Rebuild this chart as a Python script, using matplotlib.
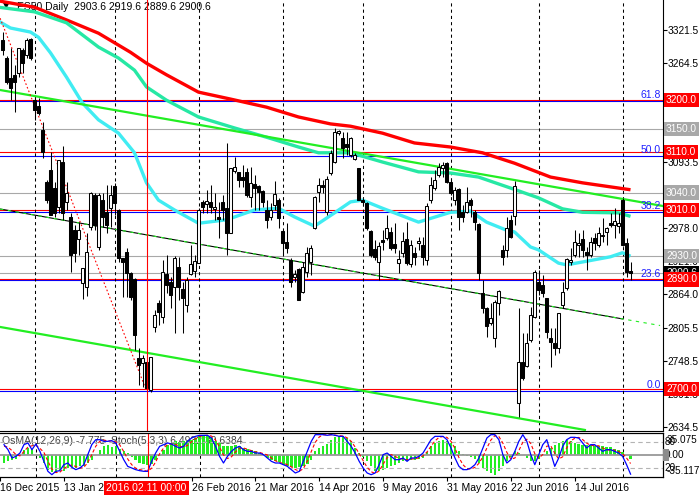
import matplotlib
matplotlib.use("Agg")
import matplotlib.pyplot as plt
from matplotlib.transforms import blended_transform_factory
import numpy as np

plt.rcParams['font.family'] = ['Liberation Sans', 'DejaVu Sans']
plt.rcParams['font.size'] = 7.5

# daily bars, index 0 = 17 Dec 2015, last = 3 Aug 2016
opens = [3304, 3273, 3238, 3244, 3247, 3287, 3278, 3306, 3200, 3190,
         3148, 3058, 3079, 3048, 3015, 3093, 3024, 2998, 2975, 2960,
         2884, 2877, 2980, 3036, 2946, 3027, 3006, 3013, 3051, 3010,
         2927, 2937, 2901, 2891, 2754, 2745, 2747, 2698, 2808, 2849,
         2825, 2899, 2885, 2877, 2911, 2873, 2845, 2899, 2905, 2918,
         3024, 3020, 3024, 3012, 2998, 3024, 3013, 2970, 3077, 3076,
         3067, 3076, 3032, 3055, 3051, 3043, 3010, 2998, 3019, 3027,
         2974, 2955, 2923, 2894, 2908, 2868, 2903, 2920, 2979, 3041,
         3053, 3006, 3074, 3093, 3143, 3135, 3124, 3105, 3098, 3083,
         3027, 3022, 2974, 2942, 2920, 2958, 2961, 2972, 2951, 2918,
         2936, 2960, 2916, 2936, 2953, 2949, 2923, 3027, 3048, 3071,
         3083, 3091, 3058, 3027, 3046, 3006, 3006, 3027, 3006, 2986,
         2866, 2840, 2814, 2788, 2849, 2941, 2941, 2993, 3000, 2676,
         2747, 2740, 2785, 2825, 2885, 2880, 2858, 2788, 2780, 2771,
         2845, 2875, 2920, 2932, 2949, 2960, 2937, 2932, 2961, 2949,
         2965, 2972, 2987, 2984, 2982, 3027, 2953, 2903.6]
highs = [3318, 3277, 3290, 3261, 3290, 3290, 3308, 3308, 3206, 3204,
         3162, 3062, 3110, 3058, 3097, 3121, 3058, 3005, 2984, 2989,
         2910, 2970, 3041, 3039, 3039, 3039, 3053, 3053, 3057, 3012,
         2927, 2944, 2903, 2892, 2771, 2759, 2747, 2756, 2837, 2854,
         2923, 2932, 2894, 2930, 2929, 2885, 2894, 2949, 2932, 3013,
         3027, 3045, 3053, 3039, 3024, 3036, 3126, 3083, 3102, 3076,
         3088, 3083, 3084, 3071, 3053, 3045, 3027, 3022, 3060, 3031,
         2975, 2987, 2927, 2906, 2910, 2920, 2946, 2949, 3034, 3065,
         3062, 3069, 3114, 3152, 3148, 3145, 3145, 3136, 3109, 3083,
         3031, 3024, 2975, 2958, 2955, 2975, 3001, 2981, 2987, 2941,
         2972, 2989, 2958, 2946, 2963, 2963, 3022, 3067, 3079, 3091,
         3093, 3093, 3065, 3050, 3048, 3019, 3050, 3031, 3010, 2987,
         2889, 2842, 2849, 2854, 2872, 2949, 2998, 3001, 3060, 2840,
         2797, 2797, 2842, 2906, 2906, 2897, 2858, 2806, 2806, 2832,
         2885, 2927, 2944, 2975, 2970, 2975, 2946, 2963, 2970, 2981,
         2996, 2981, 3005, 3013, 3005, 3031, 2961, 2919.6]
lows = [3278, 3228, 3200, 3180, 3240, 3247, 3273, 3270, 3166, 3174,
        3100, 3022, 3001, 2998, 3005, 2993, 3010, 2903, 2920, 2932,
        2856, 2861, 2975, 2975, 2941, 2981, 2970, 2981, 3001, 2920,
        2859, 2859, 2854, 2768, 2707, 2704, 2697, 2695, 2799, 2811,
        2814, 2866, 2840, 2797, 2854, 2797, 2833, 2897, 2894, 2918,
        3005, 3005, 3005, 2993, 2961, 2993, 2932, 2970, 3074, 3050,
        3050, 3032, 3015, 3010, 3010, 3015, 2979, 2993, 3010, 2979,
        2932, 2936, 2877, 2885, 2854, 2866, 2894, 2897, 2977, 3024,
        3039, 3001, 3071, 3091, 3140, 3100, 3105, 3102, 3097, 3027,
        3017, 2975, 2929, 2923, 2889, 2941, 2958, 2941, 2936, 2901,
        2929, 2915, 2911, 2915, 2941, 2915, 2915, 3022, 3045, 3067,
        3067, 3057, 3036, 3019, 2975, 2989, 3005, 2998, 2975, 2889,
        2832, 2790, 2811, 2773, 2828, 2915, 2929, 2961, 2984, 2652,
        2716, 2738, 2781, 2823, 2863, 2859, 2788, 2738, 2759, 2762,
        2840, 2871, 2915, 2929, 2929, 2929, 2906, 2929, 2941, 2946,
        2955, 2949, 2981, 2961, 2970, 2948, 2894, 2889.6]
closes = [3287, 3232, 3221, 3232, 3290, 3264, 3304, 3273, 3183, 3178,
          3110, 3027, 3001, 3005, 3097, 3005, 3039, 2932, 2936, 2975,
          2910, 2937, 3039, 2984, 3036, 2998, 2984, 3036, 3022, 2927,
          2920, 2901, 2859, 2794, 2742, 2754, 2702, 2756, 2828, 2833,
          2903, 2880, 2863, 2927, 2877, 2858, 2889, 2916, 2922, 3010,
          3015, 3025, 3015, 3015, 2994, 3010, 2970, 3083, 3084, 3062,
          3062, 3036, 3057, 3048, 3041, 3024, 2993, 3010, 3038, 2996,
          2953, 2944, 2885, 2899, 2854, 2911, 2936, 2944, 3032, 3053,
          3050, 3064, 3109, 3145, 3147, 3117, 3119, 3135, 3105, 3027,
          3024, 2979, 2932, 2929, 2948, 2955, 2979, 2944, 2944, 2925,
          2956, 2918, 2949, 2929, 2956, 2929, 3017, 3053, 3062, 3084,
          3088, 3058, 3039, 3045, 2998, 2998, 3024, 3019, 2989, 2901,
          2840, 2809, 2823, 2851, 2870, 2929, 2979, 2963, 3052, 2747,
          2719, 2780, 2828, 2903, 2871, 2866, 2799, 2781, 2771, 2832,
          2868, 2925, 2923, 2955, 2953, 2941, 2932, 2955, 2953, 2970,
          2967, 2979, 2984, 2991, 2987, 2949, 2903, 2900.6]

# moving averages (bar index, price)
red_ma_idx = [-1, 8, 16, 24, 32, 36, 41, 49, 57, 66, 74, 82, 87, 95, 103, 112, 120, 128, 137, 145, 157]
red_ma = [3372, 3361, 3339, 3316, 3283, 3264, 3244, 3214, 3202, 3188, 3171, 3159, 3155, 3143, 3126, 3119, 3109, 3091, 3067, 3057, 3045]
teal_ma_idx = [-1, 8, 16, 24, 29, 33, 36, 41, 49, 58, 66, 74, 79, 87, 95, 104, 112, 119, 127, 134, 140, 145, 154, 157]
teal_ma = [3361, 3353, 3334, 3292, 3273, 3252, 3223, 3200, 3171, 3152, 3136, 3119, 3109, 3109, 3093, 3076, 3074, 3067, 3048, 3031, 3012, 3006, 3005, 2999]
cyan_ma_idx = [-1, 2, 7, 9, 12, 16, 20, 24, 29, 33, 36, 39, 43, 49, 56, 63, 69, 73, 78, 83, 87, 90, 95, 104,
               112, 117, 121, 126, 128, 132, 134, 139, 141, 145, 152, 155, 157]
cyan_ma = [3337, 3325, 3318, 3309, 3282, 3240, 3195, 3166, 3143, 3109, 3057, 3027, 3010, 2987, 2993, 3010, 3013, 2998, 2982, 3005, 3024, 3027, 3013, 2989,
           3006, 3008, 2989, 2975, 2972, 2946, 2941, 2918, 2915, 2920, 2929, 2936, 2930]

# trend lines (bar index, price)
upper_line_idx = [-0.6, 165.1]
upper_line = [3217.7, 3016.9]
mid_line_idx = [-0.6, 155.1]
mid_line = [3011.7, 2821.3]
mid_ray_idx = [-0.6, 164.4]
mid_ray = [3011.7, 2810.0]
lower_line_idx = [-0.6, 145.6]
lower_line = [2807.5, 2629.2]
zigzag_idx = [-0.6, 36]
zigzag = [3342, 2697]

# horizontal levels
red_levels = [3200.0, 3110.0, 3010.0, 2890.0, 2700.0]
gray_levels = [3150.0, 3040.0, 2930.0, 2900.6]
fib_prices = [2697, 2888.5, 3007, 3103, 3199]
fib_names = ["0.0", "23.6", "38.2", "50.0", "61.8"]
price_ticks = [3321.5, 3264.5, 3093.5, 3036.0, 2978.0, 2921.0, 2864.0, 2805.5, 2748.5, 2691.5, 2634.5]

# month separators and date labels
separators = [8, 28, 49, 70, 90, 112, 134, 155]
date_idx = [-1, 15, 47, 63, 79, 95, 111, 127, 143]
date_labels = ["16 Dec 2015", "13 Jan 2016", "26 Feb 2016", "21 Mar 2016",
               "14 Apr 2016", "9 May 2016", "31 May 2016", "22 Jun 2016", "14 Jul 2016"]
cursor_idx = 36

# indicator window
osma = [-14.3, -11.3, -8.3, -6.5, 1.8, 9.5, 12.5, 11.3, 0.6, -5.3,
        -14.3, -26.1, -30.9, -32.1, -26.1, -27.9, -23.2, -22.0, -23.2, -20.2,
        -20.2, -14.3, -8.3, -0.6, 9.5, 15.4, 17.2, 13.7, 15.4, 11.3,
        6.5, 3.6, -4.2, -8.3, -14.3, -16.0, -17.2, -16.0, -8.3, -2.4,
        9.5, 18.4, 21.4, 24.4, 23.2, 24.4, 25.5, 27.3, 30.3, 33.3,
        35.0, 34.5, 30.3, 25.5, 21.4, 15.4, 15.4, 15.4, 17.2, 15.4,
        12.5, 11.3, 9.5, 6.5, 3.6, 0.6, -5.3, -8.3, -11.3, -13.1,
        -17.2, -20.2, -22.0, -23.2, -22.0, -20.2, -16.0, -8.3, 6.5, 12.5,
        15.4, 19.6, 27.3, 31.5, 33.3, 33.3, 30.3, 24.4, 12.5, 3.6,
        -4.2, -11.3, -20.2, -27.9, -29.1, -26.1, -23.2, -20.2, -17.2, -14.3,
        -11.3, -10.1, -8.3, -8.3, -6.5, -5.3, 5.3, 15.4, 21.4, 24.4,
        27.3, 25.5, 21.4, 15.4, 7.7, 1.8, -2.4, -4.2, -6.5, -14.3,
        -23.2, -29.1, -32.1, -35.0, -29.1, -20.2, -11.3, -4.2, 6.5, 3.6,
        -0.6, -5.3, -11.3, -11.3, -6.5, 0.6, 7.7, 12.5, 18.4, 21.4,
        24.4, 27.3, 24.4, 21.4, 19.6, 18.4, 18.4, 17.2, 15.4, 15.4,
        15.4, 14.3, 13.7, 11.3, 9.5, 5.3, -0.6, -7.775]
stoch_main = [73.5, 62.1, 43.2, 47.0, 54.5, 73.5, 77.3, 62.1, 75.0, 58.3,
              35.6, 12.9, 5.3, 12.9, 14.4, 28.0, 31.8, 22.0, 16.7, 20.5,
              28.0, 50.8, 73.5, 84.8, 84.8, 81.1, 81.1, 82.6, 77.3, 58.3,
              39.4, 24.2, 20.5, 16.7, 14.4, 12.9, 12.9, 35.6, 54.5, 69.7,
              73.5, 77.3, 75.0, 69.7, 65.9, 69.7, 81.1, 88.6, 92.4, 94.7,
              94.7, 94.7, 88.6, 69.7, 47.0, 31.8, 47.0, 58.3, 65.9, 69.7,
              62.1, 58.3, 58.3, 54.5, 54.5, 50.8, 43.2, 35.6, 31.8, 31.8,
              28.0, 24.2, 16.7, 9.1, 12.9, 35.6, 58.3, 81.1, 96.2, 96.2,
              96.2, 94.7, 96.2, 94.7, 92.4, 92.4, 81.1, 69.7, 54.5, 35.6,
              20.5, 9.1, 5.3, 9.1, 28.0, 50.8, 54.5, 47.0, 39.4, 39.4,
              43.2, 35.6, 43.2, 43.2, 47.0, 54.5, 69.7, 84.8, 92.4, 92.4,
              92.4, 84.8, 65.9, 43.2, 24.2, 16.7, 16.7, 20.5, 28.0, 43.2,
              65.9, 88.6, 96.2, 96.2, 84.8, 50.8, 31.8, 39.4, 58.3, 81.1,
              96.2, 81.1, 50.8, 28.0, 50.8, 73.5, 84.8, 54.5, 24.2, 43.2,
              69.7, 84.8, 90.2, 90.2, 88.6, 77.3, 65.9, 73.5, 73.5, 65.9,
              58.3, 62.1, 62.1, 58.3, 54.5, 47.0, 28.0, 6.49]
stoch_signal = [70, 68, 60, 51, 48, 58, 68, 71, 72, 65,
                56, 36, 18, 10, 11, 19, 25, 27, 24, 20,
                22, 33, 51, 70, 81, 84, 82, 82, 80, 73,
                58, 41, 28, 20, 17, 15, 13, 20, 34, 53,
                66, 74, 75, 74, 70, 68, 72, 80, 87, 92,
                94, 95, 93, 84, 68, 50, 42, 46, 57, 65,
                66, 63, 60, 57, 56, 53, 50, 43, 37, 33,
                31, 28, 23, 17, 13, 19, 36, 58, 79, 91,
                96, 96, 96, 95, 94, 93, 89, 81, 68, 53,
                37, 22, 12, 8, 14, 29, 44, 51, 47, 42,
                41, 39, 41, 41, 44, 48, 57, 70, 82, 90,
                92, 90, 81, 65, 44, 28, 19, 18, 22, 31,
                46, 66, 84, 94, 92, 77, 56, 41, 43, 60,
                79, 86, 76, 53, 43, 51, 70, 71, 54, 41,
                46, 66, 82, 88, 90, 85, 77, 72, 71, 71,
                66, 62, 61, 61, 58, 53, 43, 30.6]

W, H = 699, 496


def px_box(x0, y0, x1, y1):
    return [x0 / W, 1 - y1 / H, (x1 - x0) / W, (y1 - y0) / H]


fig = plt.figure(figsize=(W / 100, H / 100), dpi=100)
ax = fig.add_axes(px_box(0, 0, 663, 431))
ax2 = fig.add_axes(px_box(0, 433, 663, 477))
axs = ax2.twinx()

xmin, xmax = -0.625, 165.125
ax.set_xlim(xmin, xmax)
ax.set_ylim(2627.4, 3373.5)

# horizontal levels
for p in fib_prices:
    ax.axhline(p, color='#0000FF', lw=0.8, zorder=1)
for p in gray_levels:
    ax.axhline(p, color='#A8A8A8', lw=0.8, zorder=1)
for p in red_levels:
    ax.axhline(p, color='#FF0000', lw=0.8, zorder=1)

for s in separators:
    ax.axvline(s, color='black', lw=0.75, ls=(0, (3, 3)), zorder=1)

# title (partly hidden under the averages like on the terminal)
ax.text(3 / 663, 1 - 6 / 431, "\u25bc", transform=ax.transAxes, fontsize=6, va='center', ha='left', zorder=2,
        family=['DejaVu Sans'])
ax.text(17 / 663, 1 - 7 / 431, "ES50 Daily  2903.6 2919.6 2889.6 2900.6", transform=ax.transAxes,
        fontsize=7.5, va='center', ha='left', zorder=2)

# moving averages
ax.plot(red_ma_idx, red_ma, color='#FF0000', lw=2.4, zorder=3, solid_capstyle='butt')
ax.plot(teal_ma_idx, teal_ma, color='#26E8A4', lw=2.4, zorder=3, solid_capstyle='butt')
ax.plot(cyan_ma_idx, cyan_ma, color='#40ECF2', lw=2.4, zorder=3, solid_capstyle='butt')

# trend channel
ax.plot(upper_line_idx, upper_line, color='#22EE22', lw=1.6, zorder=3)
ax.plot(lower_line_idx, lower_line, color='#22EE22', lw=1.6, zorder=3)
ax.plot(mid_line_idx, mid_line, color='black', lw=0.8, zorder=3)
ax.plot(mid_ray_idx, mid_ray, color='#22EE22', lw=0.8, ls=(0, (3, 4)), zorder=3)
ax.plot(zigzag_idx, zigzag, color='#FF0000', lw=0.8, ls=(0, (1.5, 2)), zorder=3)

# candles
idx = np.arange(len(closes))
o = np.array(opens, dtype=float)
h = np.array(highs, dtype=float)
l = np.array(lows, dtype=float)
c = np.array(closes, dtype=float)
ax.vlines(idx, l, h, color='black', lw=0.75, zorder=4)
bottoms = np.minimum(o, c)
heights = np.maximum(np.abs(c - o), 0.8)
faces = ['white' if cc >= oo else 'black' for oo, cc in zip(o, c)]
ax.bar(idx, heights, bottom=bottoms, width=0.55, color=faces, edgecolor='black', lw=0.75, zorder=5)

ax.axvline(cursor_idx, color='#FF0000', lw=0.8, zorder=6)

# fibo labels
for p, name in zip(fib_prices, fib_names):
    ax.text(661 / 663, p + 2, name, transform=blended_transform_factory(ax.transAxes, ax.transData),
            color='#2020FF', fontsize=7.5, ha='right', va='bottom', zorder=6)

# price scale
ax.yaxis.tick_right()
ax.set_yticks(price_ticks)
ax.set_yticklabels([f"{v:.1f}" for v in price_ticks])
ax.tick_params(axis='y', direction='out', length=3, width=0.8, labelsize=7.3, pad=0.4)
ax.set_xticks([])
for side in ['left', 'top']:
    ax.spines[side].set_visible(False)
for side in ['right', 'bottom']:
    ax.spines[side].set_linewidth(0.8)

tr = blended_transform_factory(ax.transAxes, ax.transData)
box_labels = [(3200.0, '#FF0000'), (3150.0, '#A8A8A8'), (3110.0, '#FF0000'), (3040.0, '#A8A8A8'),
              (3010.0, '#FF0000'), (2930.0, '#A8A8A8'), (2900.6, 'black'), (2890.0, '#FF0000'),
              (2700.0, '#FF0000')]
for p, col in box_labels:
    ax.text(1 + 3.0 / 663, p, f"{p:.1f}", transform=tr, color='white', fontsize=7.3, ha='left', va='center',
            clip_on=False, zorder=10,
            bbox=dict(boxstyle='square,pad=0.22', fc=col, ec='none'))

# indicator window
ax2.set_xlim(xmin, xmax)
ax2.set_ylim(-39.2, 39.2)
axs.set_ylim(0, 100)
ax2.bar(np.arange(len(osma)), osma, width=0.6, color='#22EE22', zorder=2)
ax2.axhline(0, color='#999999', lw=1.3, zorder=3)
for s in separators:
    ax2.axvline(s, color='black', lw=0.75, ls=(0, (3, 3)), zorder=1)
axs.axhline(80, color='#B4B4B4', lw=0.8, ls=(0, (4, 3)))
axs.axhline(20, color='#B4B4B4', lw=0.8, ls=(0, (4, 3)))
axs.plot(np.arange(len(stoch_signal)), stoch_signal, color='#FF0000', lw=0.8, ls=(0, (3, 2)))
axs.plot(np.arange(len(stoch_main)), stoch_main, color='#0000FF', lw=0.9)
axs.axvline(cursor_idx, color='#FF0000', lw=0.8)
ax2.text(2 / 663, 1 - 8 / 44, "OsMA(12,26,9) -7.775  Stoch(5,3,3) 6.4932 30.6384", transform=ax2.transAxes,
         fontsize=7.5, color='#404040', va='center', ha='left', zorder=1)

ax2.set_yticks([])
axs.set_yticks([])
ax2.set_xticks(date_idx)
ax2.set_xticklabels(date_labels, ha='left')
ax2.tick_params(axis='x', direction='out', length=3, width=0.8, labelsize=7.5, pad=1.5)
for a in (ax2, axs):
    a.spines['left'].set_visible(False)
    for side in ['right', 'top', 'bottom']:
        a.spines[side].set_linewidth(0.8)

trs = blended_transform_factory(axs.transAxes, axs.transData)
fig.patches.append(plt.Rectangle((663 / W, 1 - 461 / H), 6 / W, 12 / H, transform=fig.transFigure,
                                 fc='#8C8C8C', ec='none', zorder=5))
for val, txt, xo in [(84.0, "35.075", 4.0), (80.0, "80", 1.5), (50.0, "0.00", 2.0),
                     (20.0, "20", 1.5), (13.5, "-35.117", 3.5)]:
    axs.text(1 + xo / 663, val, txt, transform=trs, fontsize=7.2, ha='left', va='center', clip_on=False, zorder=10)

fig.text(146.5 / W, 1 - 488 / H, "2016.02.11 00:00", color='white', fontsize=7.5, ha='center', va='center',
         zorder=10, bbox=dict(boxstyle='square,pad=0.22', fc='#FF0000', ec='none'))

fig.savefig('out.png', dpi=100)
